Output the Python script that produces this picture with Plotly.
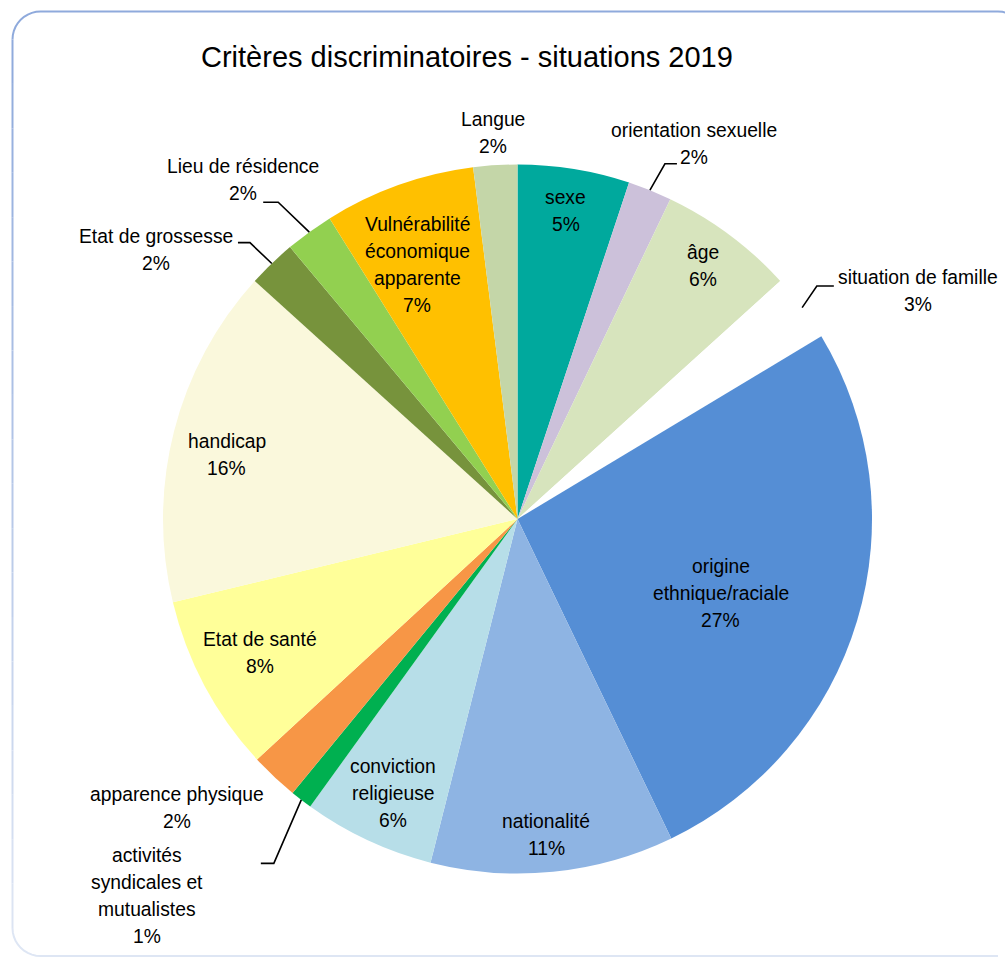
import math
import plotly.graph_objects as go

# ---------------- data ----------------
categories = [
    "sexe", "orientation sexuelle", "âge", "situation de famille",
    "origine ethnique/raciale", "nationalité", "conviction religieuse",
    "activités syndicales et mutualistes", "apparence physique",
    "Etat de santé", "handicap", "Etat de grossesse", "Lieu de résidence",
    "Vulnérabilité économique apparente", "Langue",
]
# label as displayed (line breaks)
display_names = [
    "sexe", "orientation sexuelle", "âge", "situation de famille",
    "origine<br>ethnique/raciale", "nationalité", "conviction<br>religieuse",
    "activités<br>syndicales et<br>mutualistes", "apparence physique",
    "Etat de santé", "handicap", "Etat de grossesse", "Lieu de résidence",
    "Vulnérabilité<br>économique<br>apparente", "Langue",
]
shares = [5.1, 2.0, 6.2, 3.1, 26.5, 11.1, 6.0, 1.0, 2.2, 8.1, 15.5, 2.2, 2.2, 6.9, 2.0]
pct_labels = ["5%", "2%", "6%", "3%", "27%", "11%", "6%", "1%", "2%", "8%",
              "16%", "2%", "2%", "7%", "2%"]
title_text = "Critères discriminatoires - situations 2019"

# ---------------- style ----------------
colors = ["#00A99D", "#CCC1DA", "#D7E4BD", "#FFFFFF", "#558ED5", "#8EB4E3",
          "#B7DEE8", "#00B050", "#F79646", "#FFFF99", "#FAF8DC", "#77933C",
          "#92D050", "#FFC000", "#C4D6A8"]
# (angle offset in degrees from slice mid-angle, radius fraction)
label_place = [(-0.3, 0.88), (3.2, 1.17), (-0.5, 0.885), (6.9, 1.30),
               (3.4, 0.61), (0.6, 0.895), (-0.6, 0.85), (6.9, 1.49),
               (6.3, 1.26), (0.6, 0.82), (-1.9, 0.84), (-9.5, 1.27),
               (-3.0, 1.23), (-2.0, 0.77), (0.0, 1.09)]
# leader lines: slice index -> (elbow angle offset deg, elbow radius fraction, horizontal length px)
leaders = {1: (0.6, 1.085, 12), 3: (-1.3, 1.07, 17), 7: (-2.3, 1.19, -13),
           11: (-0.2, 1.085, -12), 12: (-1.1, 1.12, -15)}

W, H = 1005, 957
CX, CY, R = 517.5, 519.0, 354.5
LINE_H = 27
LABEL_FONT = dict(family="Liberation Sans, Arial", size=19.3, color="#000000")
TITLE_FONT = dict(family="Liberation Sans, Arial", size=29, color="#000000")


def px(x, y):
    return x / W, 1 - y / H


def polar(angle_deg, frac):
    a = math.radians(angle_deg)
    return CX + R * frac * math.sin(a), CY - R * frac * math.cos(a)


fig = go.Figure(go.Pie(
    labels=categories, values=shares, sort=False, direction="clockwise",
    rotation=0, marker=dict(colors=colors, line=dict(width=0)),
    textinfo="none", hoverinfo="label+percent", showlegend=False,
    domain=dict(x=[(CX - R) / W, (CX + R) / W], y=[1 - (CY + R) / H, 1 - (CY - R) / H]),
))

total = sum(shares)
annotations = []
shapes = []
cum = 0.0
for i, v in enumerate(shares):
    mid = (cum + v / 2) / total * 360.0
    cum += v
    off, frac = label_place[i]
    lx, ly = polar(mid + off, frac)
    lines = display_names[i].split("<br>") + [pct_labels[i]]
    n = len(lines)
    for k, t in enumerate(lines):
        yy = ly + (k - (n - 1) / 2) * LINE_H
        x, y = px(lx, yy)
        annotations.append(dict(x=x, y=y, xref="paper", yref="paper", text=t,
                                showarrow=False, xanchor="center", yanchor="middle",
                                font=LABEL_FONT))
    if i in leaders:
        eo, ef, hl = leaders[i]
        x0, y0 = polar(mid, 1.0)
        x1, y1 = polar(mid + eo, ef)
        x2 = x1 + hl
        p0, p1, p2 = px(x0, y0), px(x1, y1), px(x2, y1)
        shapes.append(dict(type="path", xref="paper", yref="paper",
                           path=f"M {p0[0]},{p0[1]} L {p1[0]},{p1[1]} L {p2[0]},{p2[1]}",
                           line=dict(color="#000000", width=1.6)))

tx, ty = px(467, 57)
annotations.append(dict(x=tx, y=ty, xref="paper", yref="paper", text=title_text,
                        showarrow=False, xanchor="center", yanchor="middle", font=TITLE_FONT))

# rounded frame (segments with fading colour on left side)
L, T, RR, B, RAD = 12.5, 11.5, 1026, 956, 28


def seg(pts, color):
    s = " ".join(("M" if j == 0 else "L") + f" {px(*p)[0]},{px(*p)[1]}" for j, p in enumerate(pts))
    shapes.append(dict(type="path", xref="paper", yref="paper", path=s,
                       line=dict(color=color, width=2), layer="above"))


def arc(cx, cy, a0, a1, n=10):
    return [(cx + RAD * math.cos(math.radians(a0 + (a1 - a0) * t / n)),
             cy + RAD * math.sin(math.radians(a0 + (a1 - a0) * t / n))) for t in range(n + 1)]


top_col = (143, 170, 220)
bot_col = (222, 230, 244)
seg(arc(L + RAD, T + RAD, 180, 270) + [(RR - RAD, T)] + arc(RR - RAD, T + RAD, 270, 360), "rgb(143,170,220)")
nseg = 20
for j in range(nseg):
    ya = T + RAD + (B - RAD - T - RAD) * j / nseg
    yb = T + RAD + (B - RAD - T - RAD) * (j + 1) / nseg
    t = (j + 0.5) / nseg
    c = tuple(int(top_col[m] + (bot_col[m] - top_col[m]) * t) for m in range(3))
    seg([(L, ya), (L, yb)], f"rgb{c}")
seg(arc(L + RAD, B - RAD, 180, 90) + [(RR - RAD, B)], "rgb(222,230,244)")

fig.update_layout(
    width=W, height=H, margin=dict(l=0, r=0, t=0, b=0),
    paper_bgcolor="white", plot_bgcolor="white",
    annotations=annotations, shapes=shapes,
)

fig.write_html("out.html")
